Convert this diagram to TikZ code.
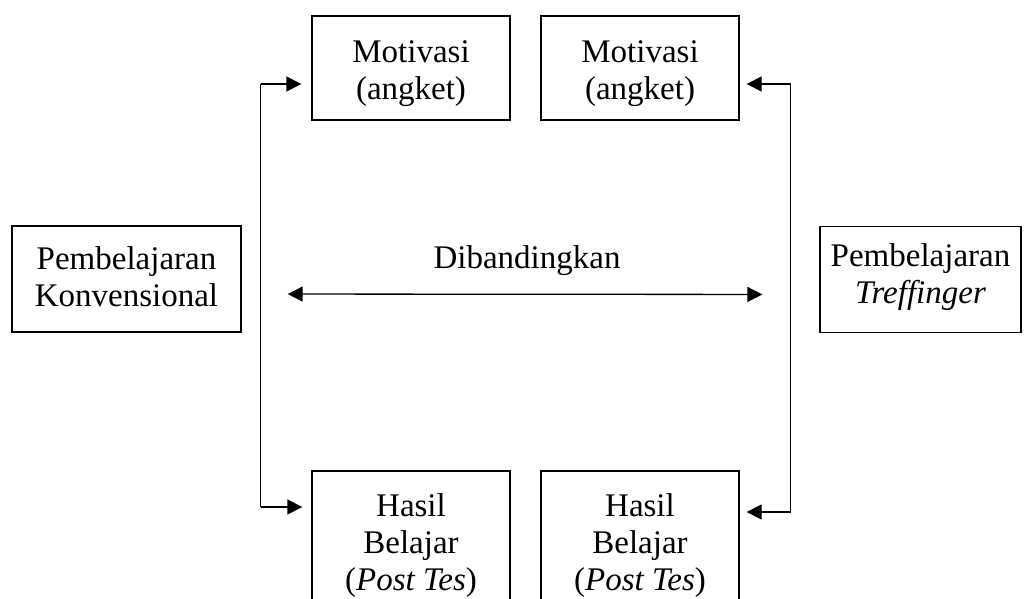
\documentclass[tikz,border=0pt]{standalone}
\usepackage{fontspec}
\setmainfont{Liberation Serif}
\usetikzlibrary{arrows.meta}
\begin{document}
\begin{tikzpicture}[x=1pt,y=-1pt,
  box/.style={draw,line width=1.3pt,inner sep=0pt},
  txt/.style={align=center,inner sep=0pt,font=\fontsize{33}{37}\selectfont},
  arr/.style={line width=1.3pt,-{Triangle[length=15pt,width=15pt]}},
  arrboth/.style={line width=1.3pt,{Triangle[length=15pt,width=15pt]}-{Triangle[length=15pt,width=15pt]}}]
\clip (0,0) rectangle (1026,599);
\node[box,minimum width=229pt,minimum height=106pt] (lb) at (126.5,279) {};
\node[txt] (lbt) at (126.5,277) {Pembelajaran\\Konvensional};
\node[box,minimum width=201pt,minimum height=106pt] (rb) at (920.5,279.5) {};
\node[txt] (rbt) at (920.5,277) {Pembelajaran\\\textit{Treffinger}};
\node[box,minimum width=198pt,minimum height=104pt] (tl) at (411,68) {};
\node[txt] (tlt) at (411,74) {Motivasi\\(angket)};
\node[box,minimum width=198pt,minimum height=104pt] (tr) at (640,68) {};
\node[txt] (trt) at (640,74) {Motivasi\\(angket)};
\node[box,minimum width=198pt,minimum height=140pt] (bl) at (411,541) {};
\node[txt] (blt) at (411,546) {Hasil\\Belajar\\(\textit{Post Tes})};
\node[box,minimum width=198pt,minimum height=140pt] (br) at (640,541) {};
\node[txt] (brt) at (640,546) {Hasil\\Belajar\\(\textit{Post Tes})};
\node[txt] (cmp) at (527,261) {Dibandingkan};
\coordinate (L1) at (260.5,84);
\coordinate (L2) at (260.5,507);
\coordinate (R1) at (790.5,84);
\coordinate (R2) at (790.5,512);
\draw[line width=1.3pt] (L1) -- (L2);
\draw[line width=1.3pt] (R1) -- (R2);
\draw[arr,shorten >=10pt] (L1) -- (L1 -| tl.west);
\draw[arr,shorten >=9pt] (L2) -- (L2 -| bl.west);
\draw[arr,shorten >=7pt] (R1) -- (R1 -| tr.east);
\draw[arr,shorten >=7pt] (R2) -- (R2 -| br.east);
\draw[arrboth,shorten <=46pt,shorten >=57pt] ([yshift=-15pt]lb.east) -- ([yshift=-15pt]rb.west);
\end{tikzpicture}
\end{document}
